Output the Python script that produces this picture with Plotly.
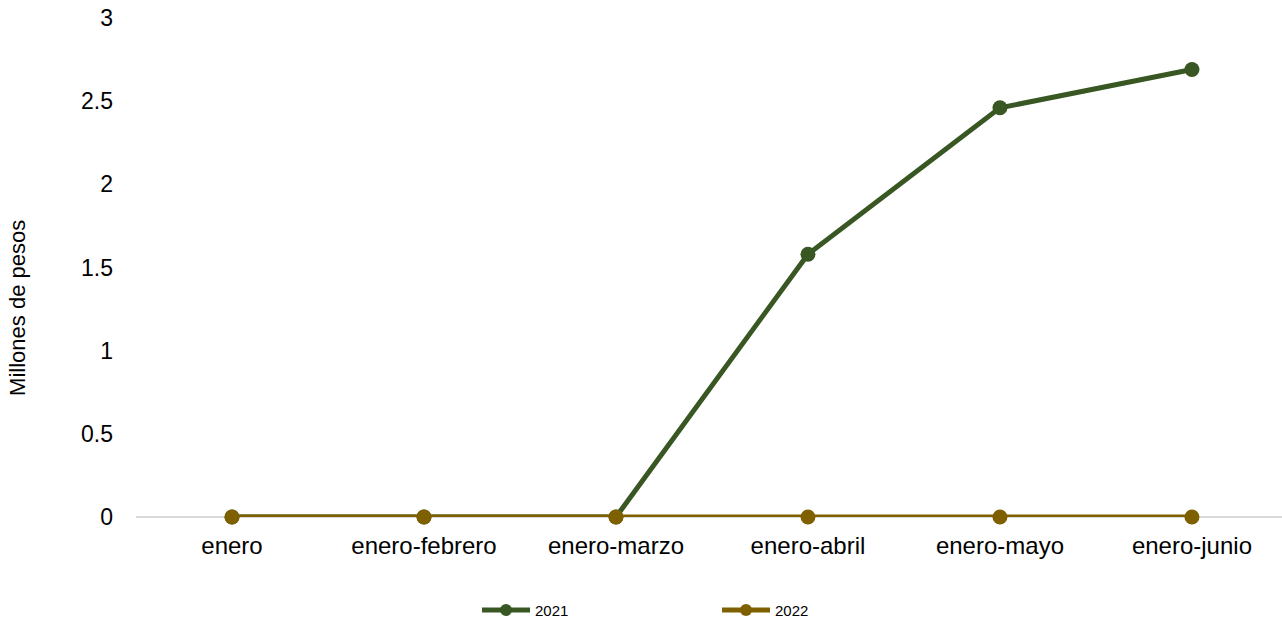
import plotly.graph_objects as go

categories = ["enero", "enero-febrero", "enero-marzo", "enero-abril", "enero-mayo", "enero-junio"]
values_2021 = [0, 0, 0, 1.58, 2.46, 2.69]
values_2022 = [0, 0, 0, 0, 0, 0]
y_title = "Millones de pesos"

fig = go.Figure()
fig.add_trace(go.Scatter(x=categories, y=values_2021, name="2021", mode="lines+markers",
                         line=dict(color="#385723", width=5),
                         marker=dict(size=15, color="#385723"), cliponaxis=False))
fig.add_trace(go.Scatter(x=categories, y=values_2022, name="2022", mode="lines+markers",
                         line=dict(color="#7F6000", width=5),
                         marker=dict(size=15, color="#7F6000"), cliponaxis=False))

fig.update_layout(
    width=1282, height=618,
    margin=dict(l=136, r=0, t=18, b=101, autoexpand=False),
    plot_bgcolor="white", paper_bgcolor="white",
    font=dict(family="Liberation Sans, Arial", size=22, color="#000000"),
    showlegend=True,
    legend=dict(orientation="h", x=0.507, xanchor="center", y=-0.187, yanchor="middle",
                font=dict(size=15), entrywidth=177, itemwidth=48, itemsizing="constant"),
    xaxis=dict(range=[-0.5, 5.469], showgrid=False, showline=False, zeroline=False,
               ticks="", ticklabelstandoff=12, tickfont=dict(size=24)),
    yaxis=dict(range=[0, 3], dtick=0.5, showgrid=False, showline=False,
               zeroline=True, zerolinecolor="#D9D9D9", zerolinewidth=1.5,
               ticks="", ticklabelstandoff=22, tickfont=dict(size=23)),
    annotations=[dict(text=y_title, xref="paper", yref="paper", x=-0.103, y=0.419,
                      xanchor="center", yanchor="middle", textangle=-90,
                      showarrow=False, font=dict(size=22))],
)

fig.write_html("out.html", config={"displayModeBar": False},
               post_script="document.body.style.margin='0';document.body.style.overflow='hidden';")
